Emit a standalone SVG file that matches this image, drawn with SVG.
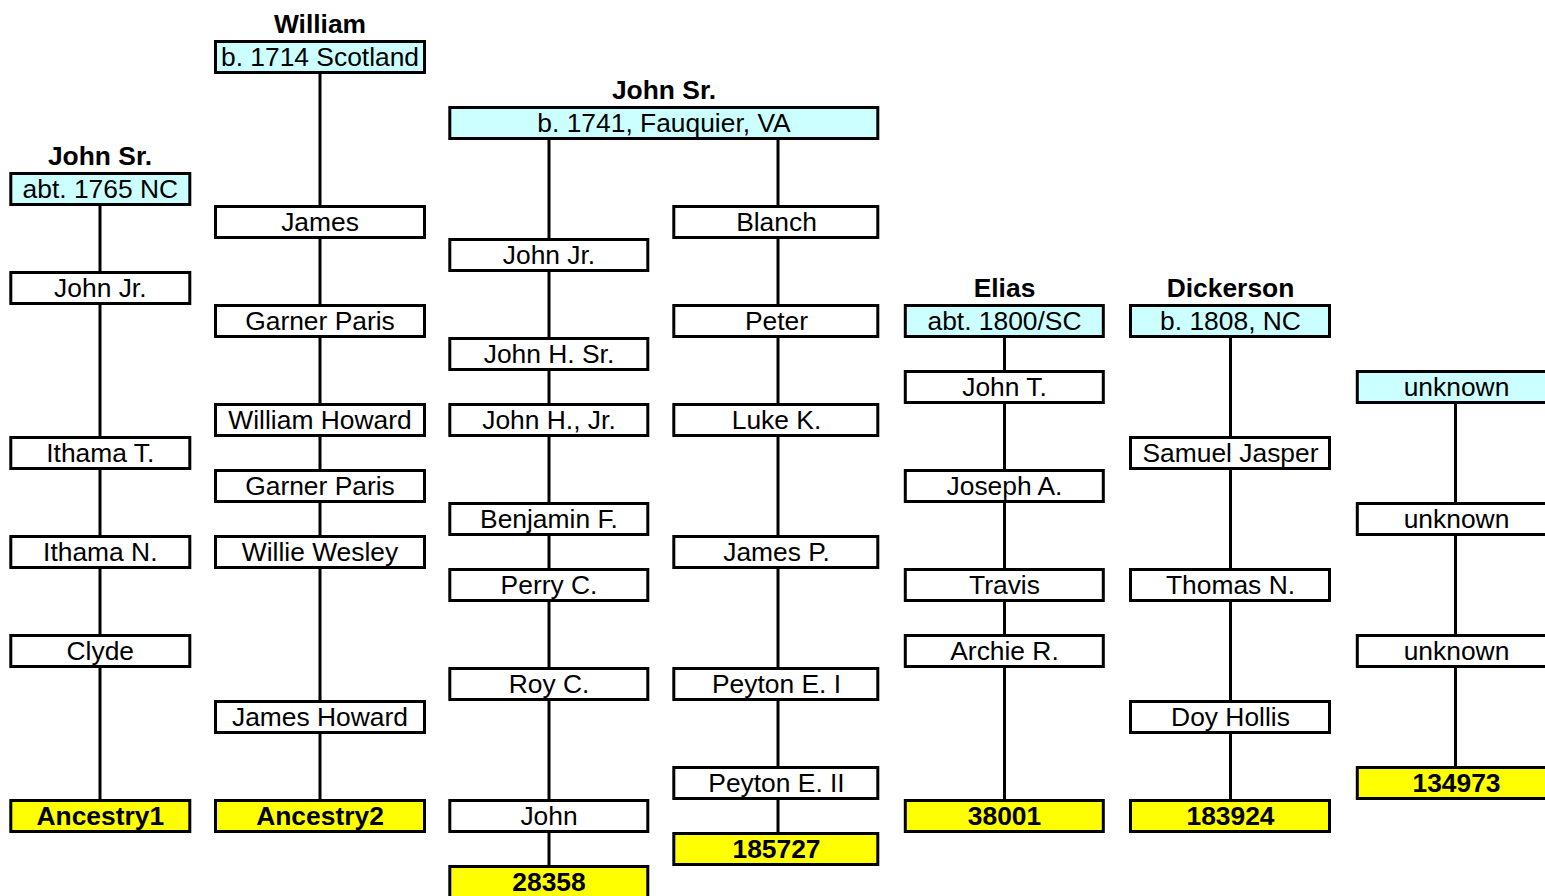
<svg xmlns="http://www.w3.org/2000/svg" width="1545" height="896" viewBox="0 0 1545 896">
<style>
.w,.c,.y{stroke:#000;stroke-width:3}
.w{fill:#fff}.c{fill:#ccffff}.y{fill:#ffff00}
text{font-family:"Liberation Sans",Arial,sans-serif;font-size:26.4px;text-anchor:middle;fill:#000}
.b{font-weight:bold}
#connectors path{stroke:#000;stroke-width:3;fill:none}
</style>
<rect x="0" y="0" width="1545" height="896" fill="#fff"/>
<g id="connectors">
<path d="M100 189V288M100 288V453M100 453V552M100 552V651M100 651V816"/>
<path d="M320 57V222M320 222V321M320 321V420M320 420V486M320 486V552M320 552V717M320 717V816"/>
<path d="M549 123V255M549 255V354M549 354V420M549 420V519M549 519V585M549 585V684M549 684V816M549 816V882"/>
<path d="M778 123V222M778 222V321M778 321V420M778 420V552M778 552V684M778 684V783M778 783V849"/>
<path d="M1004.5 321V387M1004.5 387V486M1004.5 486V585M1004.5 585V651M1004.5 651V816"/>
<path d="M1230.5 321V453M1230.5 453V585M1230.5 585V717M1230.5 717V816"/>
<path d="M1455.5 387V519M1455.5 519V651M1455.5 651V783"/>
</g>
<g id="labels">
<text class="b" x="320" y="33">William</text>
<text class="b" x="664" y="99">John Sr.</text>
<text class="b" x="100" y="165">John Sr.</text>
<text class="b" x="1004.5" y="297">Elias</text>
<text class="b" x="1230.5" y="297">Dickerson</text>
</g>
<!-- column 1 -->
<g id="c1n1"><rect class="c" x="10.8" y="173.5" width="179" height="31"/><text x="100.3" y="198">abt. 1765 NC</text></g>
<g id="c1n2"><rect class="w" x="10.8" y="272.5" width="179" height="31"/><text x="100.3" y="297">John Jr.</text></g>
<g id="c1n3"><rect class="w" x="10.8" y="437.5" width="179" height="31"/><text x="100.3" y="462">Ithama T.</text></g>
<g id="c1n4"><rect class="w" x="10.8" y="536.5" width="179" height="31"/><text x="100.3" y="561">Ithama N.</text></g>
<g id="c1n5"><rect class="w" x="10.8" y="635.5" width="179" height="31"/><text x="100.3" y="660">Clyde</text></g>
<g id="c1n6"><rect class="y" x="10.8" y="800.5" width="179" height="31"/><text class="b" x="100.3" y="825">Ancestry1</text></g>
<!-- column 2 -->
<g id="c2n1"><rect class="c" x="215.5" y="41.5" width="209" height="31"/><text x="320" y="66">b. 1714 Scotland</text></g>
<g id="c2n2"><rect class="w" x="215.5" y="206.5" width="209" height="31"/><text x="320" y="231">James</text></g>
<g id="c2n3"><rect class="w" x="215.5" y="305.5" width="209" height="31"/><text x="320" y="330">Garner Paris</text></g>
<g id="c2n4"><rect class="w" x="215.5" y="404.5" width="209" height="31"/><text x="320" y="429">William Howard</text></g>
<g id="c2n5"><rect class="w" x="215.5" y="470.5" width="209" height="31"/><text x="320" y="495">Garner Paris</text></g>
<g id="c2n6"><rect class="w" x="215.5" y="536.5" width="209" height="31"/><text x="320" y="561">Willie Wesley</text></g>
<g id="c2n7"><rect class="w" x="215.5" y="701.5" width="209" height="31"/><text x="320" y="726">James Howard</text></g>
<g id="c2n8"><rect class="y" x="215.5" y="800.5" width="209" height="31"/><text class="b" x="320" y="825">Ancestry2</text></g>
<!-- John Sr. 1741 -->
<g id="c3root"><rect class="c" x="449.8" y="107.5" width="428" height="31"/><text x="664" y="132">b. 1741, Fauquier, VA</text></g>
<!-- column 3 -->
<g id="c3n1"><rect class="w" x="449.8" y="239.5" width="198" height="31"/><text x="549" y="264">John Jr.</text></g>
<g id="c3n2"><rect class="w" x="449.8" y="338.5" width="198" height="31"/><text x="549" y="363">John H. Sr.</text></g>
<g id="c3n3"><rect class="w" x="449.8" y="404.5" width="198" height="31"/><text x="549" y="429">John H., Jr.</text></g>
<g id="c3n4"><rect class="w" x="449.8" y="503.5" width="198" height="31"/><text x="549" y="528">Benjamin F.</text></g>
<g id="c3n5"><rect class="w" x="449.8" y="569.5" width="198" height="31"/><text x="549" y="594">Perry C.</text></g>
<g id="c3n6"><rect class="w" x="449.8" y="668.5" width="198" height="31"/><text x="549" y="693">Roy C.</text></g>
<g id="c3n7"><rect class="w" x="449.8" y="800.5" width="198" height="31"/><text x="549" y="825">John</text></g>
<g id="c3n8"><rect class="y" x="449.8" y="866.5" width="198" height="31"/><text class="b" x="549" y="891">28358</text></g>
<!-- column 4 -->
<g id="c4n1"><rect class="w" x="673.8" y="206.5" width="204" height="31"/><text x="776.5" y="231">Blanch</text></g>
<g id="c4n2"><rect class="w" x="673.8" y="305.5" width="204" height="31"/><text x="776.5" y="330">Peter</text></g>
<g id="c4n3"><rect class="w" x="673.8" y="404.5" width="204" height="31"/><text x="776.5" y="429">Luke K.</text></g>
<g id="c4n4"><rect class="w" x="673.8" y="536.5" width="204" height="31"/><text x="776.5" y="561">James P.</text></g>
<g id="c4n5"><rect class="w" x="673.8" y="668.5" width="204" height="31"/><text x="776.5" y="693">Peyton E. I</text></g>
<g id="c4n6"><rect class="w" x="673.8" y="767.5" width="204" height="31"/><text x="776.5" y="792">Peyton E. II</text></g>
<g id="c4n7"><rect class="y" x="673.8" y="833.5" width="204" height="31"/><text class="b" x="776.5" y="858">185727</text></g>
<!-- column 5 -->
<g id="c5n1"><rect class="c" x="905.3" y="305.5" width="198" height="31"/><text x="1004.5" y="330">abt. 1800/SC</text></g>
<g id="c5n2"><rect class="w" x="905.3" y="371.5" width="198" height="31"/><text x="1004.5" y="396">John T.</text></g>
<g id="c5n3"><rect class="w" x="905.3" y="470.5" width="198" height="31"/><text x="1004.5" y="495">Joseph A.</text></g>
<g id="c5n4"><rect class="w" x="905.3" y="569.5" width="198" height="31"/><text x="1004.5" y="594">Travis</text></g>
<g id="c5n5"><rect class="w" x="905.3" y="635.5" width="198" height="31"/><text x="1004.5" y="660">Archie R.</text></g>
<g id="c5n6"><rect class="y" x="905.3" y="800.5" width="198" height="31"/><text class="b" x="1004.5" y="825">38001</text></g>
<!-- column 6 -->
<g id="c6n1"><rect class="c" x="1130.5" y="305.5" width="199" height="31"/><text x="1230.5" y="330">b. 1808, NC</text></g>
<g id="c6n2"><rect class="w" x="1130.5" y="437.5" width="199" height="31"/><text x="1230.5" y="462">Samuel Jasper</text></g>
<g id="c6n3"><rect class="w" x="1130.5" y="569.5" width="199" height="31"/><text x="1230.5" y="594">Thomas N.</text></g>
<g id="c6n4"><rect class="w" x="1130.5" y="701.5" width="199" height="31"/><text x="1230.5" y="726">Doy Hollis</text></g>
<g id="c6n5"><rect class="y" x="1130.5" y="800.5" width="199" height="31"/><text class="b" x="1230.5" y="825">183924</text></g>
<!-- column 7 -->
<g id="c7n1"><rect class="c" x="1357.3" y="371.5" width="220" height="31"/><text x="1456.5" y="396">unknown</text></g>
<g id="c7n2"><rect class="w" x="1357.3" y="503.5" width="220" height="31"/><text x="1456.5" y="528">unknown</text></g>
<g id="c7n3"><rect class="w" x="1357.3" y="635.5" width="220" height="31"/><text x="1456.5" y="660">unknown</text></g>
<g id="c7n4"><rect class="y" x="1357.3" y="767.5" width="220" height="31"/><text class="b" x="1456.5" y="792">134973</text></g>
</svg>
